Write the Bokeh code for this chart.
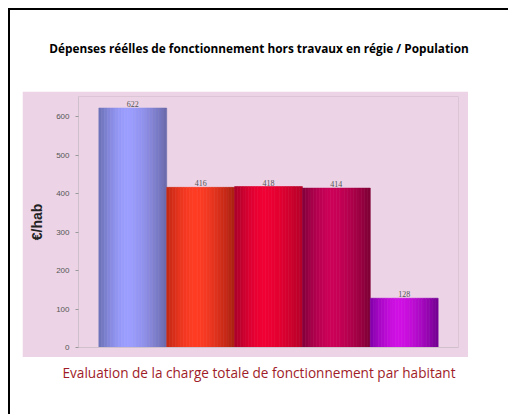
from bokeh.plotting import figure
from bokeh.models import ColumnDataSource, Div, FixedTicker, Range1d, LabelSet
from bokeh.layouts import column
from bokeh.embed import file_html
from bokeh.resources import INLINE

title_text = "Dépenses réélles de fonctionnement hors travaux en régie / Population"
caption_text = "Evaluation de la charge totale de fonctionnement par habitant"
y_axis_label = "€/hab"
values = [622, 416, 418, 414, 128]
y_ticks = [0, 100, 200, 300, 400, 500, 600]
bar_edge_left = ["#6a70b4", "#c02814", "#a8002a", "#80003a", "#8000a8"]
bar_center = ["#9c9eff", "#ff3c24", "#f00034", "#cc0058", "#d010e4"]
bar_edge_right = ["#6868a8", "#a82010", "#b40028", "#7c0034", "#700090"]

PINK = "#ecd4e6"
SANS = "Arial, 'Liberation Sans', sans-serif"


def hex2rgb(h):
    h = h.lstrip("#")
    return [int(h[i:i + 2], 16) for i in (0, 2, 4)]


def mix(a, b, f):
    ra, rb = hex2rgb(a), hex2rgb(b)
    return "#%02x%02x%02x" % tuple(int(round(x + (y - x) * f)) for x, y in zip(ra, rb))


N = 24
peak = 0.42
xs, tops, cols = [], [], []
for i, v in enumerate(values):
    for k in range(N):
        t = (k + 0.5) / N
        if t <= peak:
            f = 1 - ((peak - t) / peak) ** 1.6
            c = mix(bar_edge_left[i], bar_center[i], f)
        else:
            f = 1 - ((t - peak) / (1 - peak)) ** 1.6
            c = mix(bar_edge_right[i], bar_center[i], f)
        xs.append(i + t)
        tops.append(v)
        cols.append(c)

strips = ColumnDataSource(dict(x=xs, top=tops, color=cols))
lab = ColumnDataSource(dict(x=[i + 0.5 for i in range(len(values))], y=values,
                            text=[str(v) for v in values]))

p = figure(width=446, height=266, output_backend="svg", toolbar_location=None,
           x_range=Range1d(-0.3, len(values) + 0.3), y_range=Range1d(0, 652),
           min_border_left=56, min_border_right=10, min_border_top=5, min_border_bottom=10)
p.background_fill_color = PINK
p.border_fill_color = PINK
p.outline_line_color = "#dcc6d6"
p.grid.grid_line_color = None

p.vbar(x="x", width=1.0 / N, top="top", bottom=0, source=strips,
       fill_color="color", line_color="color", line_width=0.6)

p.add_layout(LabelSet(x="x", y="y", text="text", source=lab, y_offset=1,
                      text_align="center", text_baseline="bottom",
                      text_font_size="8px", text_color="#555555",
                      text_font=SANS))

p.yaxis.ticker = FixedTicker(ticks=y_ticks)
p.yaxis.axis_label = y_axis_label
p.yaxis.axis_label_text_font = SANS
p.yaxis.axis_label_text_font_style = "bold"
p.yaxis.axis_label_text_font_size = "14px"
p.yaxis.axis_label_text_color = "#222222"
p.yaxis.axis_label_standoff = 8
p.yaxis.major_label_text_font = SANS
p.yaxis.major_label_text_font_size = "8px"
p.yaxis.major_label_text_color = "#555555"
p.yaxis.major_label_standoff = 6
p.yaxis.axis_line_color = "#d0c0cc"
p.yaxis.major_tick_line_color = "#999999"
p.yaxis.major_tick_out = 3
p.yaxis.major_tick_in = 0
p.yaxis.minor_tick_line_color = None

p.xaxis.ticker = FixedTicker(ticks=[])
p.xaxis.axis_line_color = "#d0c0cc"
p.xaxis.minor_tick_line_color = None
p.margin = (0, 0, 0, 12)

title_div = Div(
    text=f'<div style="width:498px;padding-top:30px;text-align:center;font-family:\'Open Sans\';'
         f'font-weight:bold;font-size:11.8px;line-height:16px;color:#000;">{title_text}</div>',
    width=498, height=81, margin=(0, 0, 0, 0))
caption_div = Div(
    text=f'<div style="width:498px;padding-top:6px;text-align:center;font-family:\'Open Sans\';'
         f'font-size:13.6px;line-height:20px;color:#a01c28;">{caption_text}</div>',
    width=498, height=57, margin=(0, 0, 0, 0))

layout = column(title_div, p, caption_div, spacing=0,
                styles={"border-top": "2px solid black", "border-left": "2px solid black",
                        "margin-top": "8px", "margin-left": "8px"})

open("out.html", "w").write(file_html(layout, INLINE))
